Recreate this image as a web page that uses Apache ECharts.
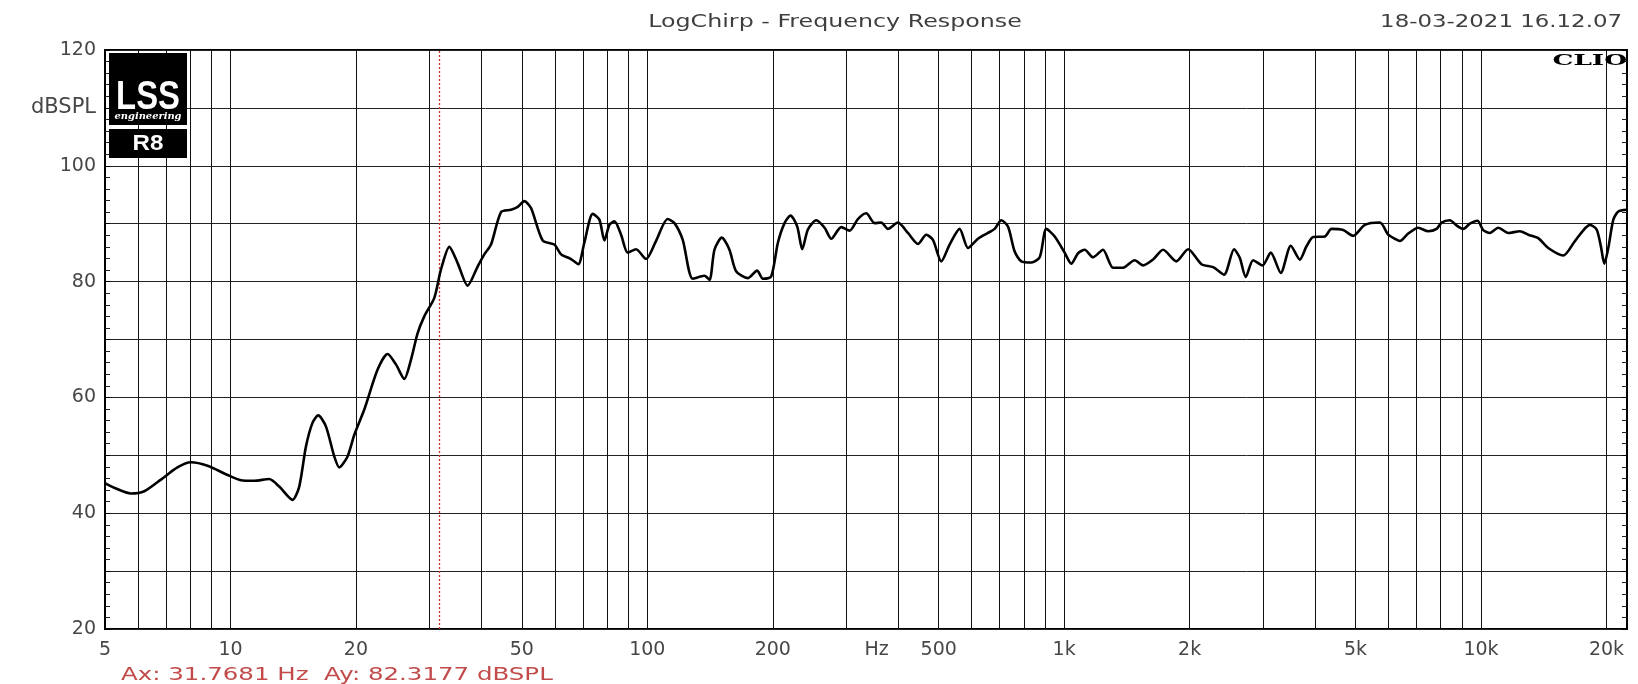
<!DOCTYPE html>
<html><head><meta charset="utf-8">
<script src="https://cdn.jsdelivr.net/npm/echarts@6/dist/echarts.min.js"></script>
<style>html,body{margin:0;padding:0;background:#fff}#c{width:1638px;height:684px}</style>
</head><body><div id="c"></div>
<script>
// ---- data ----
const FREQ_HZ = [5,5.26,5.77,6.21,6.81,7.46,8.03,8.81,9.84,10.59,11.4,12.38,13.09,14.09,14.62,15.17,15.73,16.24,16.94,17.74,18.24,19.09,19.81,20.94,22.54,23.82,24.94,26.12,27.1,28.12,29.17,30.83,31.99,33.5,35.07,37.07,39.17,40.64,42.17,44.57,47.1,48.87,50.7,52.6,56.1,59.84,62.1,65.6,68.3,70.6,73.96,76.74,78.9,81.1,83.4,86.5,89.75,93.98,99.3,104.9,111.9,116.2,121.6,128.5,137.1,141,144.9,150.9,157.4,163.3,174.2,183.4,189.3,198.2,205.7,213.4,220.6,228.9,235.3,242.8,254.2,266.2,276.2,291.9,305.6,320,335.1,350.9,364.1,377.7,399.2,421.9,445.9,466.9,484.4,507.2,531.2,561.4,587.8,621.2,656.5,681.2,706.8,733.3,760.8,789.4,834.3,873.6,906.3,949.2,1002.8,1040,1080,1120,1173,1239,1310,1385,1476,1546,1634,1727,1859,1983,2135,2277,2419,2556,2638,2727,2840,2990,3131,3309,3497,3676,3814,3957,4220,4378,4670,4935,5264,5720,5990,6214,6388,6689,7069,7470,7823,8042,8421,8737,9065,9404,9811,10123,10503,11000,11624,12397,12982,13718,14497,15752,16802,18254,18939,19401,19760,20200,20770,21350,22360];
const SPL_DB = [45.2,44.4,43.4,43.8,45.8,47.9,48.8,48.2,46.6,45.7,45.6,45.9,44.6,42.3,44.6,51.5,55.6,56.9,55.0,49.8,47.9,49.8,53.5,57.9,64.8,67.5,65.7,63.2,66.5,71.1,74.0,77.2,82.1,86.0,83.2,79.3,82.6,84.7,86.4,92.0,92.4,92.9,93.9,92.7,87.1,86.4,84.7,83.9,83.0,86.7,91.7,90.7,87.1,89.8,90.4,88.1,85.0,85.6,83.9,87.0,90.8,90.1,87.2,80.5,81.0,80.3,85.5,87.6,85.5,81.8,80.6,81.9,80.5,80.9,86.7,90.1,91.4,89.5,85.6,89.0,90.6,89.3,87.4,89.4,88.8,90.8,91.8,90.1,90.2,89.1,90.2,88.4,86.5,88.1,87.2,83.5,86.4,89.1,85.8,87.4,88.4,89.1,90.6,89.5,85.2,83.5,83.3,84.2,89.1,87.8,85.0,83.1,84.9,85.5,84.2,85.5,82.4,82.4,83.7,82.8,83.8,85.5,83.5,85.6,83.0,82.5,81.2,85.6,84.1,80.8,83.7,82.8,85.0,81.5,86.2,83.8,86.1,87.7,87.8,89.1,88.9,87.9,89.8,90.2,88.1,87.4,87.0,88.3,89.3,88.7,89.1,90.2,90.6,89.7,89.1,90.0,90.5,88.9,88.4,89.3,88.4,88.7,88.1,87.5,85.8,84.5,87.0,89.8,89.0,86.0,83.1,85.8,90.7,92.1,92.4];
const GRID_FREQS = [6,7,8,9,10,20,30,40,50,60,70,80,90,100,200,300,400,500,600,700,800,900,1000,2000,3000,4000,5000,6000,7000,8000,9000,10000,20000];
const X_LABELS = [5,10,20,50,100,200,500,1000,2000,5000,10000,20000];
const X_UNIT = 'Hz';
const X_UNIT_AT = 355;
const X_MIN = 5, X_MAX = 22400;
const Y_MIN = 20, Y_MAX = 120, Y_STEP = 10;
const Y_LABELS = [20,40,60,80,100,120];
const Y_UNIT = 'dBSPL';
const Y_UNIT_AT = 110;
const CURSOR_HZ = 31.7681, CURSOR_DB = 82.3177;
const TITLE = 'LogChirp - Frequency Response';
const DATE = '18-03-2021 16.12.07';

const lg = Math.log10;
const seriesData = FREQ_HZ.map((f, i) => [lg(f), SPL_DB[i]]);
const labelVals = X_LABELS.concat([X_UNIT_AT]).map(lg);

function fmtHz(v) {
  const f = Math.round(Math.pow(10, v));
  if (f === X_UNIT_AT) return X_UNIT;
  return f >= 1000 ? (f / 1000) + 'k' : String(f);
}
function fmtDb(v) {
  if (Y_LABELS.indexOf(v) >= 0) return String(v);
  if (v === Y_UNIT_AT) return '{u|' + Y_UNIT + '}';
  return '';
}
const axisFont = { fontFamily: 'DejaVu Sans', fontSize: 19, color: '#474747' };

const chart = echarts.init(document.getElementById('c'), null, { renderer: 'canvas' });
chart.setOption({
  animation: false,
  backgroundColor: '#fff',
  grid: { left: 105, top: 50, width: 1522, height: 579, show: true, borderColor: '#000', borderWidth: 2, backgroundColor: 'transparent', containLabel: false, outerBoundsMode: 'none' },
  xAxis: {
    type: 'value', min: lg(X_MIN), max: lg(X_MAX),
    axisLine: { show: false },
    axisTick: { show: false, customValues: GRID_FREQS.map(lg) },
    splitLine: { show: true, lineStyle: { color: '#111', width: 1 } },
    axisLabel: Object.assign({ customValues: labelVals, formatter: fmtHz, margin: 12 }, axisFont)
  },
  yAxis: [{
    type: 'value', min: Y_MIN, max: Y_MAX, interval: Y_STEP, position: 'left',
    axisLine: { show: false },
    axisTick: { show: true, inside: true, length: 5, lineStyle: { color: '#000' } },
    minorTick: { show: true, splitNumber: 5, length: 5, lineStyle: { color: '#222' } },
    splitLine: { show: true, lineStyle: { color: '#222', width: 1 } },
    axisLabel: Object.assign({ formatter: fmtDb, margin: 9,
      rich: { u: { fontFamily: 'DejaVu Sans', fontSize: 21, color: '#474747' } } }, axisFont)
  }, {
    type: 'value', min: Y_MIN, max: Y_MAX, interval: Y_STEP, position: 'right',
    axisLine: { show: false },
    axisTick: { show: true, inside: true, length: 5, lineStyle: { color: '#000' } },
    minorTick: { show: true, splitNumber: 5, length: 5, lineStyle: { color: '#222' } },
    splitLine: { show: false },
    axisLabel: { show: false }
  }],
  series: [{
    type: 'line', data: seriesData, showSymbol: false, smooth: 0.25, z: 5,
    lineStyle: { color: '#000', width: 2.6 },
    markLine: {
      silent: true, symbol: 'none', label: { show: false },
      lineStyle: { color: '#c0392b', type: [2, 2], width: 1.3 },
      data: [{ xAxis: lg(CURSOR_HZ) }]
    }
  }],
  graphic: [
    { type: 'text', x: 835, y: 22, scaleX: 1.32, z: 100,
      style: { text: TITLE, font: '18px "DejaVu Sans"', fill: '#3f3f3f', align: 'center', verticalAlign: 'middle', textAlign: 'center', textVerticalAlign: 'middle' } },
    { type: 'text', x: 1622, y: 22, scaleX: 1.27, z: 100,
      style: { text: DATE, font: '18px "DejaVu Sans"', fill: '#3f3f3f', align: 'right', verticalAlign: 'middle', textAlign: 'right', textVerticalAlign: 'middle' } },
    { type: 'text', x: 121, y: 675, scaleX: 1.36, z: 100,
      style: { text: 'Ax: ' + CURSOR_HZ.toFixed(4) + ' Hz  Ay: ' + CURSOR_DB.toFixed(4) + ' dBSPL', font: '18px "DejaVu Sans"', fill: '#c24a4a', align: 'left', verticalAlign: 'middle', textAlign: 'left', textVerticalAlign: 'middle' } },
    { type: 'text', x: 1627, y: 61, scaleX: 1.75, z: 100,
      style: { text: 'CLIO', font: 'bold 15px "DejaVu Serif"', fill: '#000', align: 'right', verticalAlign: 'middle', textAlign: 'right', textVerticalAlign: 'middle' } },
    { type: 'rect', z: 100, shape: { x: 109, y: 53, width: 78, height: 72 }, style: { fill: '#000' } },
    { type: 'rect', z: 100, shape: { x: 109, y: 129, width: 78, height: 29 }, style: { fill: '#000' } },
    { type: 'text', x: 148, y: 98, scaleX: 0.82, z: 101,
      style: { text: 'LSS', font: 'bold 40px "Liberation Sans"', fill: '#fff', align: 'center', verticalAlign: 'middle', textAlign: 'center', textVerticalAlign: 'middle' } },
    { type: 'text', x: 148, y: 117, scaleX: 1.1, z: 101,
      style: { text: 'engineering', font: 'italic bold 9px "DejaVu Serif"', fill: '#fff', align: 'center', verticalAlign: 'middle', textAlign: 'center', textVerticalAlign: 'middle' } },
    { type: 'text', x: 148, y: 144, scaleX: 1.1, z: 101,
      style: { text: 'R8', font: 'bold 22px "Liberation Sans"', fill: '#fff', align: 'center', verticalAlign: 'middle', textAlign: 'center', textVerticalAlign: 'middle' } }
  ]
});
</script>
</body></html>
